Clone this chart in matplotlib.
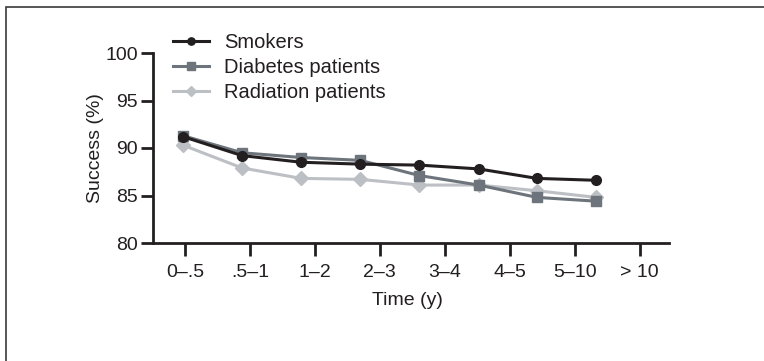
import matplotlib
matplotlib.use("Agg")
import matplotlib.pyplot as plt
from matplotlib.patches import Rectangle

plt.rcParams['font.family'] = ['Liberation Sans Narrow', 'Liberation Sans', 'DejaVu Sans']

# data
categories = ['0\u2013.5', '.5\u20131', '1\u20132', '2\u20133', '3\u20134', '4\u20135', '5\u201310', '> 10']
point_x = [-0.03, 0.88, 1.79, 2.70, 3.61, 4.52, 5.42, 6.33]
smokers = [91.2, 89.2, 88.5, 88.3, 88.2, 87.8, 86.8, 86.6]
diabetes = [91.3, 89.5, 89.0, 88.7, 87.1, 86.1, 84.8, 84.4]
radiation = [90.3, 87.9, 86.8, 86.7, 86.1, 86.1, 85.5, 84.8]

ink = '#231f20'

fig = plt.figure(figsize=(7.64, 3.61), dpi=100)
ax = fig.add_axes([153/764, 1 - 243/361, (669 - 153)/764, (243 - 53)/361])

ax.plot(point_x, smokers, '-o', color=ink, lw=2.2, ms=7, label='Smokers', zorder=4)
ax.plot(point_x, diabetes, '-s', color='#6d747b', lw=2.2, ms=7, label='Diabetes patients', zorder=3)
ax.plot(point_x, radiation, '-D', color='#bcbfc3', lw=2.2, ms=7, label='Radiation patients', zorder=2)

ax.set_xlim(-0.49, 7.45)
ax.set_ylim(80, 100)
ax.set_xticks(range(len(categories)), labels=categories)
ax.set_yticks([80, 85, 90, 95, 100])

for s in ['top', 'right']:
    ax.spines[s].set_visible(False)
for s in ['left', 'bottom']:
    ax.spines[s].set_color(ink)
    ax.spines[s].set_linewidth(2)

ax.tick_params(axis='both', colors=ink, width=2, length=9, labelsize=14, labelcolor=ink)
ax.tick_params(axis='x', pad=6)
ax.tick_params(axis='y', pad=2)

ax.set_ylabel('Success (%)', fontsize=14, color=ink)
ax.yaxis.set_label_coords(-0.094, 0.5)
ax.set_xlabel('Time (y)', fontsize=14, color=ink)
ax.xaxis.set_label_coords(0.494, -0.258)

leg = ax.legend(loc='upper left', bbox_to_anchor=(173/764, 1 - 33/361), bbox_transform=fig.transFigure,
                frameon=False, fontsize=14.5, handlelength=1.8, handletextpad=0.75,
                labelspacing=0.3, markerscale=0.75, borderaxespad=0, borderpad=0)
for t in leg.get_texts():
    t.set_color(ink)

# frame round the figure (only top and left show in the original)
fig.patches.append(Rectangle((6/764, -0.1), 1.2, 1 - 7/361 + 0.1, transform=fig.transFigure,
                             fill=False, edgecolor='#3a3a3a', lw=1.2))

fig.savefig('out.png', dpi=100)
